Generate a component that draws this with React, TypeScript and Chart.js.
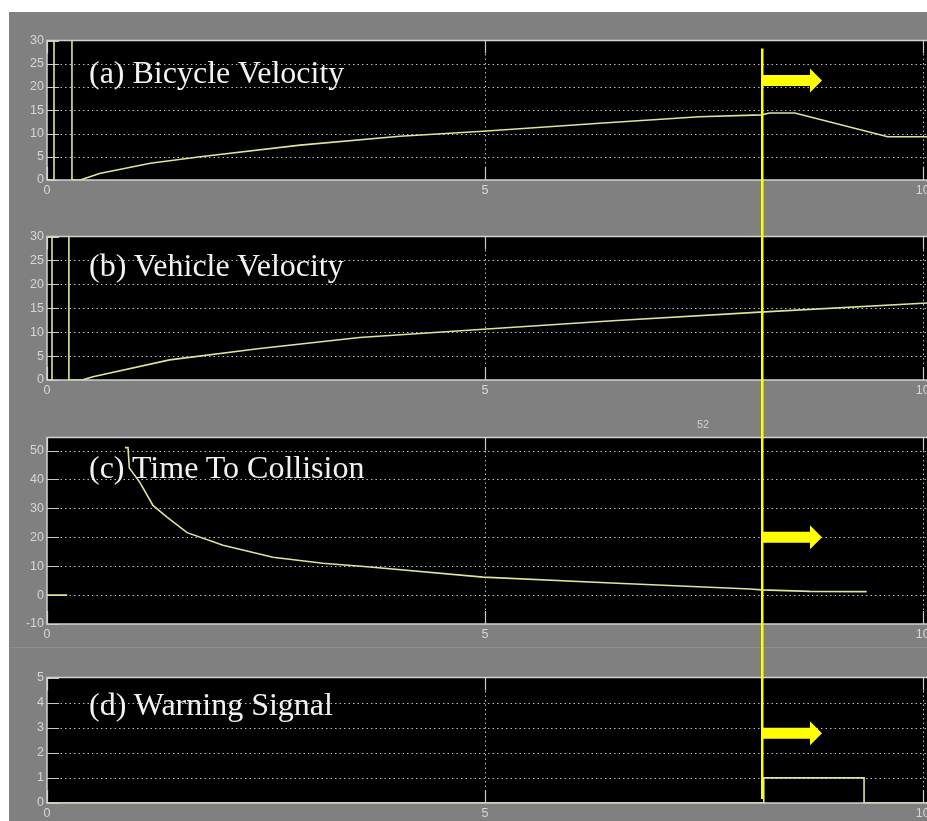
import React, { useEffect, useRef } from 'react';
import { Chart, registerables } from 'chart.js';

Chart.register(...registerables);

// ---- time axis (s) ----
const timeTicks = [0, 5, 10];
const timeMax = 10.3;

// ---- (a) bicycle velocity ----
const bicycleTime = [0, 0.08, 0.08, 0.285, 0.285, 0.38, 0.6, 1.18, 1.75, 2.89, 4.03, 4.98, 6.31, 7.45, 8.16, 8.25, 8.54, 9.6, 10.3];
const bicycleSpeed = [0, 0, 40, 40, 0, 0, 1.4, 3.6, 5.0, 7.5, 9.4, 10.5, 12.2, 13.6, 14.0, 14.4, 14.4, 9.3, 9.3];
const speedTicks = [0, 5, 10, 15, 20, 25, 30];

// ---- (b) vehicle velocity ----
const vehicleTime = [0, 0.057, 0.057, 0.25, 0.25, 0.4, 0.525, 1.4, 2.43, 3.57, 4.98, 6.46, 8.14, 10.05, 10.3];
const vehicleSpeed = [0, 0, 40, 40, 0, 0, 0.7, 4.2, 6.6, 8.9, 10.6, 12.4, 14.2, 16.1, 16.3];

// ---- (c) time to collision ----
const ttcTime = [0, 0.23, 0.5, 0.89, 0.925, 0.94, 1.06, 1.21, 1.37, 1.6, 2.01, 2.58, 3.15, 3.69, 4.98, 6.51, 8.03, 8.16, 8.71, 9.36];
const ttcValue = [0, 0, null, 51, 51, 44, 39, 31, 27, 21.6, 17.2, 13.1, 11, 9.7, 6.2, 4.1, 2.1, 1.8, 1.3, 1.2];
const ttcTicks = [-10, 0, 10, 20, 30, 40, 50];

// ---- (d) warning signal ----
const warningTime = [0, 8.185, 8.185, 9.33, 9.33, 10.3];
const warningValue = [0, 0, 1, 1, 0, 0];
const warningTicks = [0, 1, 2, 3, 4, 5];

// cursor time and arrow levels (panel index, value on that panel's axis)
const cursorTime = 8.16;
const arrowPanels = [0, 2, 3];
const arrowLevels = [21.4, 20, 2.78];

const panelTitles = ['(a) Bicycle Velocity', '(b) Vehicle Velocity', '(c) Time To Collision', '(d) Warning Signal'];

type PanelDef = {
  times: number[];
  values: (number | null)[];
  yMin: number;
  yMax: number;
  yTicks: number[];
};

const panels: PanelDef[] = [
  { times: bicycleTime, values: bicycleSpeed, yMin: 0, yMax: 30, yTicks: speedTicks },
  { times: vehicleTime, values: vehicleSpeed, yMin: 0, yMax: 30, yTicks: speedTicks },
  { times: ttcTime, values: ttcValue, yMin: -10, yMax: 54.5, yTicks: ttcTicks },
  { times: warningTime, values: warningValue, yMin: 0, yMax: 5, yTicks: warningTicks },
];

// layout (page pixels)
const PLOT_TOPS = [40, 236, 437, 677];
const PLOT_BOTTOMS = [180, 380, 624, 803];
const TITLE_OFFSETS = [16, 13, 14, 11];
const PAD_TOP = 10;
const X_AXIS_H = 22;
const CANVAS_W = 960;
const Y_AXIS_W = 47;

const TRACE = 'rgb(226,226,158)';
const TICK_TEXT = '#d6d6d6';

const scopeFrame = {
  id: 'scopeFrame',
  beforeDraw(chart: any) {
    const { ctx, chartArea } = chart;
    ctx.save();
    ctx.fillStyle = '#000';
    ctx.fillRect(chartArea.left, chartArea.top, chartArea.right - chartArea.left, chartArea.bottom - chartArea.top);
    ctx.restore();
  },
  beforeDatasetsDraw(chart: any) {
    const { ctx, chartArea, scales } = chart;
    const { left, right, top, bottom } = chartArea;
    const xs = scales.x;
    const ys = scales.y;
    ctx.save();
    // dotted grid
    ctx.lineWidth = 1;
    ctx.strokeStyle = '#bcbcbc';
    ctx.setLineDash([1.5, 3]);
    ys.ticks.forEach((t: any) => {
      const py = Math.round(ys.getPixelForValue(t.value)) + 0.5;
      if (py > top + 1 && py < bottom - 1) {
        ctx.beginPath();
        ctx.moveTo(left, py);
        ctx.lineTo(right, py);
        ctx.stroke();
      }
    });
    xs.ticks.forEach((t: any) => {
      const px = Math.round(xs.getPixelForValue(t.value)) + 0.5;
      if (px > left + 1 && px < right - 1) {
        ctx.beginPath();
        ctx.moveTo(px, top);
        ctx.lineTo(px, bottom);
        ctx.stroke();
      }
    });
    // solid inner tick marks
    ctx.setLineDash([]);
    ctx.strokeStyle = '#c8c8c8';
    ctx.lineWidth = 1.2;
    ys.ticks.forEach((t: any) => {
      const py = Math.round(ys.getPixelForValue(t.value)) + 0.5;
      ctx.beginPath();
      ctx.moveTo(left, py);
      ctx.lineTo(left + 12, py);
      ctx.moveTo(right - 12, py);
      ctx.lineTo(right, py);
      ctx.stroke();
    });
    xs.ticks.forEach((t: any) => {
      const px = Math.round(xs.getPixelForValue(t.value)) + 0.5;
      ctx.beginPath();
      ctx.moveTo(px, bottom);
      ctx.lineTo(px, bottom - 13);
      ctx.moveTo(px, top);
      ctx.lineTo(px, top + 13);
      ctx.stroke();
    });
    // axes box
    ctx.strokeStyle = '#d2d2d2';
    ctx.lineWidth = 1.5;
    ctx.strokeRect(left, top, right - left, bottom - top);
    ctx.restore();
  },
};

function makeChart(canvas: HTMLCanvasElement, p: PanelDef) {
  const data = p.times.map((t, i) => ({ x: t, y: p.values[i] }));
  return new Chart(canvas, {
    type: 'line',
    data: {
      datasets: [
        {
          data: data as any,
          borderColor: TRACE,
          borderWidth: 1.6,
          pointRadius: 0,
          tension: 0,
          spanGaps: false,
        },
      ],
    },
    options: {
      animation: false,
      responsive: false,
      devicePixelRatio: 1,
      events: [],
      layout: { padding: { top: PAD_TOP, right: CANVAS_W - (Y_AXIS_W + 902), left: 0, bottom: 0 } },
      plugins: { legend: { display: false }, tooltip: { enabled: false }, title: { display: false } },
      scales: {
        x: {
          type: 'linear',
          min: 0,
          max: timeMax,
          grid: { display: false, drawTicks: false },
          border: { display: false },
          afterBuildTicks: (s: any) => {
            s.ticks = timeTicks.map((v) => ({ value: v }));
          },
          afterFit: (s: any) => {
            s.height = X_AXIS_H;
          },
          ticks: {
            color: TICK_TEXT,
            font: { family: 'Liberation Sans, Arial, sans-serif', size: 12.5 },
            padding: 3,
            maxRotation: 0,
            autoSkip: false,
            callback: (v: any) => String(v),
          },
        },
        y: {
          type: 'linear',
          min: p.yMin,
          max: p.yMax,
          grid: { display: false, drawTicks: false },
          border: { display: false },
          afterBuildTicks: (s: any) => {
            s.ticks = p.yTicks.map((v) => ({ value: v }));
          },
          afterFit: (s: any) => {
            s.width = Y_AXIS_W;
          },
          ticks: {
            color: TICK_TEXT,
            font: { family: 'Liberation Sans, Arial, sans-serif', size: 12.5 },
            padding: 3,
            autoSkip: false,
            callback: (v: any) => String(v),
          },
        },
      },
    },
    plugins: [scopeFrame],
  });
}

export default function App() {
  const canvasRefs = useRef<(HTMLCanvasElement | null)[]>([]);
  const overlayRef = useRef<HTMLCanvasElement | null>(null);

  useEffect(() => {
    const charts = panels.map((p, i) => makeChart(canvasRefs.current[i] as HTMLCanvasElement, p));

    const ov = overlayRef.current;
    if (ov) {
      const ctx = ov.getContext('2d')!;
      ctx.clearRect(0, 0, ov.width, ov.height);
      const first = charts[0];
      const last = charts[3];
      const xc = first.scales.x.getPixelForValue(cursorTime);
      const yTop = PLOT_TOPS[0] - PAD_TOP + first.chartArea.top + 8;
      const yBot = PLOT_TOPS[3] - PAD_TOP + last.chartArea.bottom - 4;
      ctx.fillStyle = '#ffff00';
      ctx.fillRect(Math.round(xc) - 1, yTop, 2.5, yBot - yTop);

      arrowPanels.forEach((pi, k) => {
        const ch = charts[pi];
        const yc = PLOT_TOPS[pi] - PAD_TOP + ch.scales.y.getPixelForValue(arrowLevels[k]);
        const x0 = Math.round(xc);
        ctx.beginPath();
        ctx.moveTo(x0, yc - 5.5);
        ctx.lineTo(x0 + 48, yc - 5.5);
        ctx.lineTo(x0 + 48, yc - 12);
        ctx.lineTo(x0 + 60, yc);
        ctx.lineTo(x0 + 48, yc + 12);
        ctx.lineTo(x0 + 48, yc + 5.5);
        ctx.lineTo(x0, yc + 5.5);
        ctx.closePath();
        ctx.fill();
      });
    }

    return () => {
      charts.forEach((c) => c.destroy());
    };
  }, []);

  return (
    <div style={{ position: 'fixed', left: 0, top: 0, width: 927, height: 821, overflow: 'hidden', background: '#fff' }}>
      <div style={{ position: 'absolute', left: 9, top: 12, width: 960, height: 830, background: '#808080' }} />
      <div style={{ position: 'absolute', left: 9, top: 647, width: 960, height: 1, background: '#8e8e8e' }} />
      {panels.map((p, i) => {
        const h = PLOT_BOTTOMS[i] - PLOT_TOPS[i] + PAD_TOP + X_AXIS_H;
        return (
          <canvas
            key={i}
            ref={(el) => {
              canvasRefs.current[i] = el;
            }}
            width={CANVAS_W}
            height={h}
            style={{ position: 'absolute', left: 0, top: PLOT_TOPS[i] - PAD_TOP, width: CANVAS_W, height: h }}
          />
        );
      })}
      {panelTitles.map((t, i) => (
        <div
          key={t}
          style={{
            position: 'absolute',
            left: 89,
            top: PLOT_TOPS[i] + TITLE_OFFSETS[i],
            font: '32px "Liberation Serif", "Times New Roman", serif',
            lineHeight: '32px',
            color: '#f2f2f2',
            whiteSpace: 'nowrap',
          }}
        >
          {t}
        </div>
      ))}
      <div
        style={{
          position: 'absolute',
          left: 697,
          top: 418,
          font: '11px "Liberation Sans", Arial, sans-serif',
          color: '#d0d0d0',
        }}
      >
        52
      </div>
      <canvas
        ref={overlayRef}
        width={927}
        height={821}
        style={{ position: 'absolute', left: 0, top: 0, width: 927, height: 821, pointerEvents: 'none' }}
      />
    </div>
  );
}
